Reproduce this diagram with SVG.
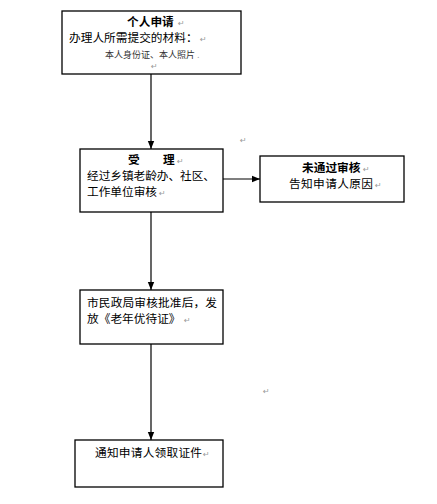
<svg xmlns="http://www.w3.org/2000/svg" width="437" height="504" viewBox="0 0 437 504">
<style>
.box{fill:#fff;stroke:#000;stroke-width:1.3}
.t{font-family:"Noto Sans CJK SC","Liberation Sans",sans-serif;font-size:11.7px;fill:#000}
.b{font-weight:bold}
.s{font-size:9px;fill:#333}
.m{font-family:"DejaVu Sans",sans-serif;font-size:8px;fill:#999}
.c{stroke:#000;stroke-width:1.2;fill:none}
</style>
<defs>
<marker id="ah" viewBox="0 0 8 8" refX="8" refY="4" markerWidth="8" markerHeight="8" markerUnits="userSpaceOnUse" orient="auto">
<path d="M0,0.8 L8,4 L0,7.2 Z" fill="#000"/>
</marker>
</defs>
<rect width="437" height="504" fill="#fff"/>
<g id="connectors">
<line class="c" x1="151" y1="74" x2="151" y2="149" marker-end="url(#ah)"/>
<line class="c" x1="151" y1="212" x2="151" y2="290" marker-end="url(#ah)"/>
<line class="c" x1="151" y1="344" x2="151" y2="440" marker-end="url(#ah)"/>
<line class="c" x1="223" y1="179" x2="260" y2="179" marker-end="url(#ah)"/>
</g>
<g id="node-apply">
<rect class="box" x="62" y="11" width="179" height="63"/>
<text class="t b" x="127" y="26">个人申请</text><text class="m" x="178" y="26">↵</text>
<text class="t" x="69" y="42">办理人所需提交的材料：</text><text class="m" x="200" y="42">↵</text>
<text class="t s" x="105" y="58">本人身份证、本人照片</text><text class="m" x="197" y="58">.</text>
<text class="m" x="151" y="69">↵</text>
</g>
<g id="node-accept">
<rect class="box" x="80" y="149" width="143" height="63"/>
<text class="t b" x="128" y="164">受</text><text class="t b" x="163" y="164">理</text><text class="m" x="177" y="164">↵</text>
<text class="t" x="87" y="180" textLength="128" lengthAdjust="spacing">经过乡镇老龄办、社区、</text>
<text class="t" x="87" y="196" textLength="70" lengthAdjust="spacing">工作单位审核</text><text class="m" x="159" y="196">↵</text>
</g>
<g id="node-reject">
<rect class="box" x="260" y="156" width="144" height="46"/>
<text class="t b" x="302" y="172">未通过审核</text><text class="m" x="363" y="172">↵</text>
<text class="t" x="289" y="188" textLength="84" lengthAdjust="spacing">告知申请人原因</text><text class="m" x="375" y="188">↵</text>
</g>
<g id="node-approve">
<rect class="box" x="80" y="290" width="143" height="54"/>
<text class="t" x="87" y="307" textLength="130" lengthAdjust="spacing">市民政局审核批准后，发</text>
<text class="t" x="87" y="323">放《老年优待证》</text><text class="m" x="184" y="323">↵</text>
</g>
<g id="node-notify">
<rect class="box" x="75" y="440" width="148" height="47"/>
<text class="t" x="95" y="457" textLength="107" lengthAdjust="spacing">通知申请人领取证件</text><text class="m" x="203" y="457">↵</text>
</g>
<text class="m" x="240" y="143">↵</text>
<text class="m" x="263" y="394">↵</text>
</svg>
